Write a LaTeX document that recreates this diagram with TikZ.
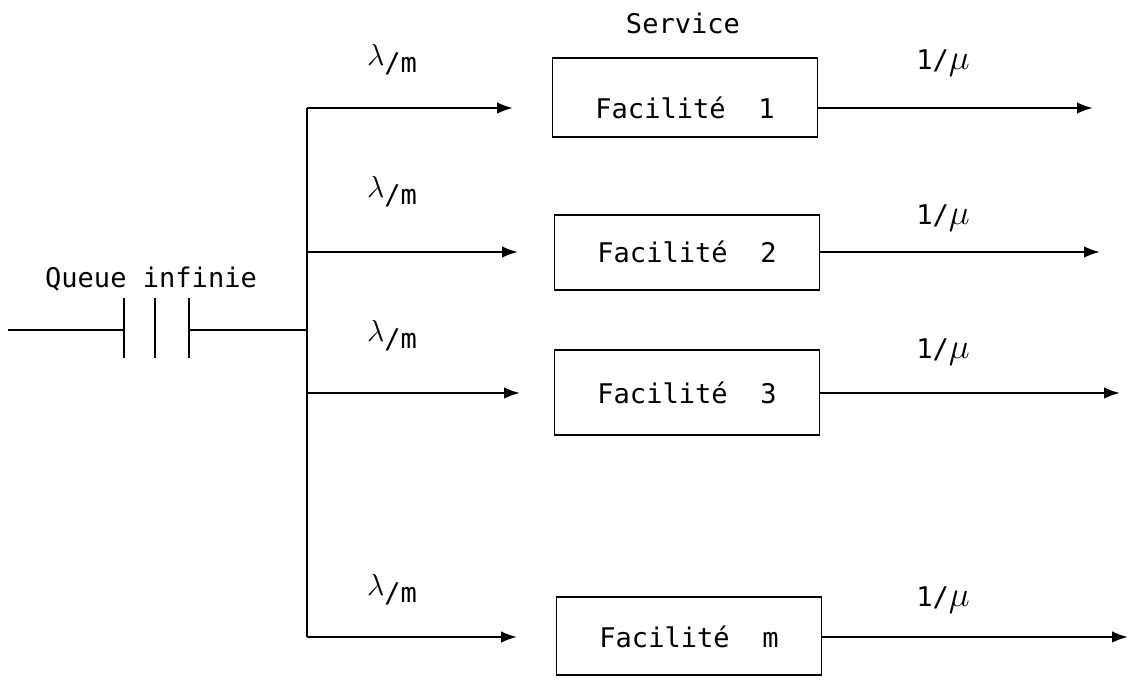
\documentclass[tikz,border=0pt]{standalone}
\usepackage{fontspec}
\setmonofont{DejaVu Sans Mono}
\usetikzlibrary{arrows.meta}

\begin{document}
\begin{tikzpicture}[x=0.02cm,y=-0.02cm,inner sep=0pt,outer sep=0pt,line width=1.2pt,
>={Latex[length=9pt,width=6.5pt]},
every node/.style={font=\ttfamily\fontsize{15.4}{18}\selectfont},
facility/.style={draw,rectangle,anchor=base,minimum width=5.3cm,line width=1pt}]

\useasboundingbox (0,0) rectangle (1134,698);

% queue
\coordinate (qin) at (8,330);
\coordinate (qa) at (124,330);
\coordinate (qb) at (155,330);
\coordinate (qc) at (189,330);
\coordinate (qj) at (307,330);
\draw (151,287) node[anchor=base] (queue) {Queue infinie};
\draw (qin) -- (qa);
\draw (qc) -- (qj);
\draw (qa) ++(0,-32) -- ++(0,60);
\draw (qb) ++(0,-32) -- ++(0,60);
\draw (qc) ++(0,-32) -- ++(0,60);

% service boxes
\draw (683,33) node[anchor=base] (serv) {Service};
\draw (685,118) node[facility,text height=1.2cm,text depth=0.38cm] (f1) {Facilité\ \ 1};
\draw (687,262) node[facility,text height=0.94cm,text depth=0.56cm] (f2) {Facilité\ \ 2};
\draw (687,403) node[facility,text height=1.06cm,text depth=0.64cm] (f3) {Facilité\ \ 3};
\draw (689,647) node[facility,text height=1.0cm,text depth=0.56cm] (fm) {Facilité\ \ m};

% branches
\coordinate (s1) at (307,108);
\coordinate (s2) at (307,252);
\coordinate (s3) at (307,393);
\coordinate (sm) at (307,637);
\coordinate (t1) at (513,108);
\coordinate (t2) at (518,252);
\coordinate (t3) at (520,393);
\coordinate (tm) at (517,637);
\coordinate (e1) at (1093,108);
\coordinate (e2) at (1100,252);
\coordinate (e3) at (1120,393);
\coordinate (em) at (1128,637);

\draw (s1) -- (sm);
\draw[->] (s1) -- (t1);
\draw[->] (s2) -- (t2);
\draw[->] (s3) -- (t3);
\draw[->] (sm) -- (tm);
\draw[->] (f1.east |- s1) -- (e1);
\draw[->] (f2.east |- s2) -- (e2);
\draw[->] (f3.east |- s3) -- (e3);
\draw[->] (fm.east |- sm) -- (em);

% rates
\draw (392,60) node (lam1) {\raisebox{4pt}{\scalebox{1.2}{$\lambda$}}/m};
\draw (392,192) node (lam2) {\raisebox{4pt}{\scalebox{1.2}{$\lambda$}}/m};
\draw (392,336) node (lam3) {\raisebox{4pt}{\scalebox{1.2}{$\lambda$}}/m};
\draw (392,590) node (lamm) {\raisebox{4pt}{\scalebox{1.2}{$\lambda$}}/m};
\draw (943,63) node (mu1) {1/\scalebox{1.4}{$\mu$}};
\draw (943,218) node (mu2) {1/\scalebox{1.4}{$\mu$}};
\draw (943,352) node (mu3) {1/\scalebox{1.4}{$\mu$}};
\draw (943,600) node (mum) {1/\scalebox{1.4}{$\mu$}};

\end{tikzpicture}
\end{document}
